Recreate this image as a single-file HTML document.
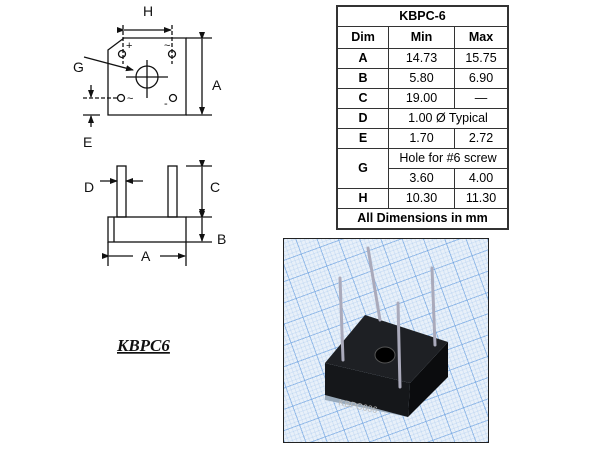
<!DOCTYPE html>
<html><head><meta charset="utf-8"><style>
body{margin:0;background:#fff;width:600px;height:451px;position:relative;overflow:hidden;font-family:"Liberation Sans",sans-serif}
table{position:absolute;left:336px;top:5px;width:173px;border-collapse:collapse;border:2px solid #333;font-size:12.5px}
td{border:1px solid #333;text-align:center;padding:0;height:19px;line-height:17px}
.b{font-weight:bold}
#ph{position:absolute;left:283px;top:238px;width:204px;height:203px;border:1px solid #222;overflow:hidden;
background-color:#e8f0f9;
background-image:repeating-linear-gradient(70deg,rgba(90,150,220,.5) 0 1px,transparent 1px 20px),repeating-linear-gradient(-20deg,rgba(90,150,220,.5) 0 1px,transparent 1px 20px),repeating-linear-gradient(70deg,rgba(120,170,230,.18) 0 1px,transparent 1px 4px),repeating-linear-gradient(-20deg,rgba(120,170,230,.18) 0 1px,transparent 1px 4px)}
</style></head><body>
<svg width="600" height="451" style="position:absolute;left:0;top:0" font-family="Liberation Sans, sans-serif" font-size="14">
<defs><marker id="ar" markerWidth="8" markerHeight="8" refX="7" refY="4" orient="auto" markerUnits="userSpaceOnUse"><path d="M0,1 L8,4 L0,7z" fill="#111"/></marker></defs>
<g stroke="#111" stroke-width="1.3" fill="none">
<path d="M108,50 L124,38 L186,38 L186,115 L108,115 Z"/>
<line x1="123" y1="25" x2="123" y2="64" stroke-dasharray="4,2"/><line x1="172" y1="25" x2="172" y2="64" stroke-dasharray="4,2"/>
<line x1="124" y1="30" x2="171" y2="30" marker-start="url(#ar)" marker-end="url(#ar)"/>
<line x1="186" y1="38" x2="212" y2="38"/><line x1="186" y1="115" x2="212" y2="115"/>
<line x1="202" y1="39" x2="202" y2="114" marker-start="url(#ar)" marker-end="url(#ar)"/>
<circle cx="147" cy="77" r="11"/><line x1="126" y1="77" x2="168" y2="77"/><line x1="147" y1="60" x2="147" y2="98"/>
<circle cx="122" cy="54" r="3.5"/><circle cx="172" cy="54" r="3.5"/><circle cx="121" cy="98" r="3.5"/><circle cx="173" cy="98" r="3.5"/>
<line x1="84" y1="57" x2="133" y2="70" marker-end="url(#ar)"/>
<line x1="83" y1="98" x2="117" y2="98" stroke-dasharray="4,2"/>
<line x1="91" y1="85" x2="91" y2="97" marker-end="url(#ar)"/>
<line x1="83" y1="115" x2="100" y2="115"/>
<line x1="91" y1="127" x2="91" y2="116" marker-end="url(#ar)"/>
<rect x="108" y="217" width="78" height="25"/><line x1="114" y1="217" x2="114" y2="242"/>
<rect x="117" y="166" width="9" height="51"/><rect x="168" y="166" width="9" height="51"/>
<line x1="186" y1="166" x2="212" y2="166"/><line x1="186" y1="217" x2="212" y2="217"/><line x1="186" y1="242" x2="212" y2="242"/>
<line x1="202" y1="167" x2="202" y2="216" marker-start="url(#ar)" marker-end="url(#ar)"/>
<line x1="202" y1="218" x2="202" y2="241" marker-start="url(#ar)" marker-end="url(#ar)"/>
<line x1="100" y1="181" x2="117" y2="181" marker-end="url(#ar)"/><line x1="143" y1="181" x2="126" y2="181" marker-end="url(#ar)"/>
<line x1="108" y1="242" x2="108" y2="266"/><line x1="186" y1="242" x2="186" y2="266"/>
<line x1="109" y1="256" x2="133" y2="256" marker-start="url(#ar)"/><line x1="160" y1="256" x2="185" y2="256" marker-end="url(#ar)"/>
</g>
<g fill="#111">
<text x="143" y="16">H</text><text x="212" y="90">A</text><text x="73" y="72">G</text><text x="83" y="147">E</text>
<text x="84" y="192">D</text><text x="210" y="192">C</text><text x="217" y="244">B</text><text x="141" y="261">A</text>
<text x="126" y="49" font-size="11">+</text><text x="164" y="49" font-size="11">~</text><text x="127" y="102" font-size="11">~</text><text x="164" y="107" font-size="11">-</text>
<text x="117" y="351" font-family="Liberation Serif, serif" font-style="italic" font-weight="bold" font-size="17" text-decoration="underline">KBPC6</text>
</g></svg>
<table>
<tr><td colspan="3" class="b">KBPC-6</td></tr>
<tr><td class="b" style="width:50px;height:21px">Dim</td><td class="b" style="width:65px">Min</td><td class="b">Max</td></tr>
<tr><td class="b">A</td><td>14.73</td><td>15.75</td></tr>
<tr><td class="b">B</td><td>5.80</td><td>6.90</td></tr>
<tr><td class="b">C</td><td>19.00</td><td>—</td></tr>
<tr><td class="b">D</td><td colspan="2">1.00 Ø Typical</td></tr>
<tr><td class="b">E</td><td>1.70</td><td>2.72</td></tr>
<tr><td class="b" rowspan="2">G</td><td colspan="2">Hole for #6 screw</td></tr>
<tr><td>3.60</td><td>4.00</td></tr>
<tr><td class="b">H</td><td>10.30</td><td>11.30</td></tr>
<tr><td colspan="3" class="b">All Dimensions in mm</td></tr>
</table>
<div id="ph"></div>
<svg width="600" height="451" style="position:absolute;left:0;top:0">
<polygon points="325,395 410,383 408,417 325,400" fill="#9ab"/>
<polygon points="325,363 410,383 408,417 325,395" fill="#15171a"/>
<polygon points="410,383 448,342 448,377 408,417" fill="#0b0c0e"/>
<polygon points="325,363 365,315 448,342 410,383" fill="#1e2024"/>
<ellipse cx="385" cy="355" rx="10" ry="8" fill="#000" stroke="#555"/>
<g stroke="#aab" stroke-width="3" stroke-linecap="round">
<line x1="340" y1="278" x2="343" y2="360"/><line x1="368" y1="248" x2="380" y2="320"/>
<line x1="432" y1="268" x2="435" y2="345"/><line x1="398" y1="303" x2="400" y2="387"/></g>
<text x="338" y="405" fill="#bbb" font-size="9" font-family="Liberation Sans" transform="rotate(12 338 405)">KBPC606</text>
</svg>
</body></html>
